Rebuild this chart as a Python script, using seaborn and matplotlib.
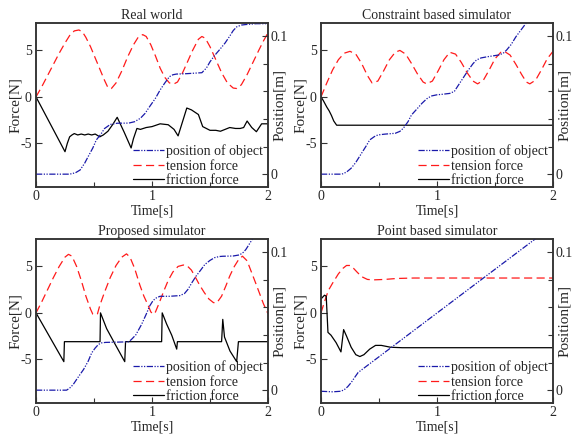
import matplotlib
matplotlib.use("Agg")
import matplotlib.pyplot as plt
from matplotlib.ticker import MultipleLocator
import seaborn as sns

# ---- data ----
# Real world
real_pos_t = [0, 0.29, 0.34, 0.38, 0.42, 0.45, 0.49, 0.52, 0.56, 0.59, 0.64, 0.70, 0.80, 0.85, 0.90, 0.94,
              0.98, 1.03, 1.07, 1.11, 1.15, 1.18, 1.21, 1.30, 1.43, 1.47, 1.50, 1.54, 1.58, 1.63, 1.67, 1.70,
              1.73, 1.77, 1.81, 1.90, 2.0]
real_pos = [0, 0, 0.001, 0.003, 0.008, 0.0128, 0.019, 0.0248, 0.029, 0.033, 0.036, 0.0369, 0.037, 0.038,
            0.0405, 0.044, 0.049, 0.055, 0.061, 0.066, 0.0706, 0.072, 0.0725, 0.0728, 0.0735, 0.077, 0.0814,
            0.086, 0.0899, 0.095, 0.1, 0.104, 0.1067, 0.108, 0.1084, 0.109, 0.109]
real_ten_t = [0, 0.05, 0.1, 0.15, 0.2, 0.25, 0.29, 0.33, 0.37, 0.40, 0.43, 0.47, 0.51, 0.55, 0.59, 0.62,
              0.65, 0.69, 0.74, 0.79, 0.84, 0.88, 0.92, 0.95, 0.99, 1.03, 1.07, 1.11, 1.15, 1.19, 1.22,
              1.26, 1.3, 1.35, 1.4, 1.43, 1.46, 1.5, 1.55, 1.6, 1.65, 1.7, 1.73, 1.77, 1.82, 1.87, 1.92,
              1.96, 2.0]
real_ten = [0, 1.1, 2.3, 3.5, 4.7, 5.8, 6.6, 7.1, 7.2, 7.0, 6.4, 5.4, 4.2, 3.0, 1.8, 1.0, 0.9, 1.5, 2.8,
            4.3, 5.6, 6.4, 6.7, 6.5, 5.6, 4.4, 3.1, 2.1, 1.5, 1.4, 1.6, 2.5, 3.6, 5.0, 6.2, 6.5, 6.3, 5.4,
            4.0, 2.6, 1.5, 0.95, 0.9, 1.3, 2.4, 3.7, 5.0, 6.0, 6.9]
real_fri_t = [0, 0.25, 0.27, 0.29, 0.31, 0.33, 0.36, 0.39, 0.42, 0.45, 0.48, 0.51, 0.55, 0.58, 0.62, 0.66,
              0.70, 0.76, 0.82, 0.84, 0.87, 0.90, 0.95, 1.0, 1.07, 1.14, 1.19, 1.225, 1.26, 1.30, 1.34,
              1.40, 1.437, 1.5, 1.55, 1.59, 1.63, 1.67, 1.72, 1.76, 1.79, 1.82, 1.86, 1.90, 1.945, 2.0]
real_fri = [0, -5.9, -5.0, -4.3, -4.1, -3.95, -4.1, -4.0, -4.1, -4.0, -4.1, -4.0, -4.3, -4.1, -3.7, -3.0,
            -2.2, -3.8, -5.5, -4.5, -3.4, -3.5, -3.3, -3.2, -2.9, -3.0, -3.5, -4.2, -2.8, -1.2, -1.4, -1.9,
            -3.2, -3.6, -3.6, -3.7, -3.5, -3.3, -3.4, -3.4, -3.3, -2.6, -3.3, -3.75, -2.9, -2.9]

# Constraint based simulator
cons_pos_t = [0, 0.18, 0.22, 0.26, 0.3, 0.35, 0.39, 0.42, 0.46, 0.49, 0.55, 0.64, 0.68, 0.71, 0.75, 0.78,
              0.83, 0.87, 0.91, 0.95, 1.0, 1.04, 1.11, 1.15, 1.18, 1.22, 1.27, 1.31, 1.34, 1.38, 1.43, 1.53,
              1.57, 1.6, 1.64, 1.68, 1.72, 1.77, 1.8]
cons_pos = [0, 0, 0.0015, 0.0043, 0.0085, 0.0152, 0.0205, 0.0248, 0.0272, 0.0284, 0.029, 0.0296, 0.031,
            0.0333, 0.038, 0.0429, 0.0475, 0.0513, 0.0545, 0.0566, 0.0575, 0.0578, 0.0585, 0.060, 0.0639,
            0.069, 0.0754, 0.080, 0.0827, 0.0842, 0.085, 0.0863, 0.0875, 0.0899, 0.094, 0.0995, 0.104,
            0.1096, 0.114]
cons_ten_t = [0, 0.05, 0.1, 0.15, 0.2, 0.25, 0.3, 0.35, 0.4, 0.44, 0.49, 0.54, 0.59, 0.64, 0.68, 0.73,
              0.78, 0.83, 0.88, 0.91, 0.96, 1.01, 1.06, 1.11, 1.16, 1.21, 1.26, 1.31, 1.35, 1.4, 1.45, 1.5,
              1.55, 1.58, 1.63, 1.68, 1.73, 1.77, 1.80, 1.85, 1.9, 1.95, 2.0]
cons_ten = [0, 1.5, 2.9, 4.0, 4.7, 4.9, 4.6, 3.6, 2.3, 1.5, 1.7, 2.8, 4.0, 4.8, 5.0, 4.6, 3.6, 2.5, 1.6,
            1.4, 1.7, 2.8, 4.0, 4.8, 4.6, 3.7, 2.6, 1.7, 1.4, 1.8, 2.9, 4.1, 4.8, 4.9, 4.5, 3.5, 2.4, 1.6,
            1.4, 1.8, 2.9, 4.1, 4.9]
cons_fri_t = [0, 0.02, 0.05, 0.07, 0.09, 0.11, 0.135, 2.0]
cons_fri = [0, -0.4, -1.1, -1.5, -2.0, -2.6, -3.05, -3.05]

# Proposed simulator
prop_pos_t = [0, 0.264, 0.29, 0.32, 0.36, 0.41, 0.45, 0.48, 0.51, 0.537, 0.56, 0.60, 0.70, 0.795, 0.82,
              0.86, 0.91, 0.95, 0.98, 1.01, 1.04, 1.07, 1.15, 1.24, 1.28, 1.31, 1.345, 1.38, 1.42, 1.455,
              1.5, 1.54, 1.58, 1.61, 1.70, 1.756, 1.79, 1.81, 1.84, 1.87, 1.9]
prop_pos = [0, 0, 0.0015, 0.004, 0.009, 0.015, 0.021, 0.027, 0.0305, 0.033, 0.0342, 0.0346, 0.0348,
            0.035, 0.0365, 0.040, 0.0476, 0.055, 0.061, 0.065, 0.067, 0.068, 0.068, 0.0685, 0.070, 0.073,
            0.078, 0.0826, 0.087, 0.091, 0.094, 0.096, 0.0968, 0.097, 0.0972, 0.098, 0.1, 0.102, 0.106,
            0.110, 0.114]
prop_ten_t = [0, 0.05, 0.1, 0.15, 0.2, 0.25, 0.28, 0.31, 0.35, 0.39, 0.43, 0.47, 0.49, 0.51, 0.53, 0.55,
              0.59, 0.64, 0.69, 0.74, 0.78, 0.81, 0.85, 0.895, 0.93, 0.967, 0.99, 1.01, 1.03, 1.06, 1.1,
              1.14, 1.18, 1.225, 1.27, 1.30, 1.34, 1.38, 1.41, 1.45, 1.49, 1.53, 1.56, 1.6, 1.64, 1.67,
              1.71, 1.75, 1.78, 1.82, 1.86, 1.90, 1.93, 1.96, 2.0]
prop_ten = [0, 1.2, 2.5, 3.8, 5.0, 6.0, 6.3, 6.1, 5.0, 3.5, 1.8, 0.4, -0.15, -0.2, -0.1, 0.8, 2.2, 3.8,
            5.1, 6.0, 6.35, 6.0, 4.8, 3.0, 1.8, 0.8, 0.1, -0.15, 0.1, 1.0, 2.3, 3.5, 4.4, 5.0, 5.15, 5.1,
            4.6, 3.7, 3.0, 2.2, 1.5, 1.1, 1.1, 1.8, 3.0, 3.96, 5.0, 5.8, 6.1, 5.6, 4.3, 3.0, 2.0, 1.0, -0.1]
prop_fri_t = [0, 0.24, 0.245, 0.552, 0.556, 0.609, 0.681, 0.765, 0.772, 1.083, 1.088, 1.126, 1.17, 1.213,
              1.219, 1.60, 1.61, 1.625, 1.672, 1.73, 1.745, 2.0]
prop_fri = [0, -5.25, -3.1, -3.1, 0, -1.7, -3.35, -5.25, -3.1, -3.1, 0, -1.2, -2.4, -3.9, -3.1, -3.1,
            -0.7, -2.6, -4.1, -5.25, -3.1, -3.1]

# Point based simulator
point_pos_t = [0, 0.1, 0.17, 0.2, 0.23, 0.26, 0.29, 0.32, 1.87, 2.0]
point_pos = [-0.0008, -0.0012, -0.0008, 0.0003, 0.0025, 0.0055, 0.0092, 0.0128, 0.111, 0.119]
point_ten_t = [0, 0.03, 0.063, 0.1, 0.15, 0.19, 0.22, 0.25, 0.28, 0.31, 0.35, 0.4, 0.45, 0.55, 0.65,
               0.8, 1.0, 1.3, 1.6, 2.0]
point_ten = [0, 1.2, 2.4, 3.2, 4.2, 4.8, 5.1, 5.1, 4.8, 4.4, 3.9, 3.6, 3.55, 3.6, 3.7, 3.75, 3.75,
             3.75, 3.75, 3.75]
point_fri_t = [0, 0.03, 0.045, 0.06, 0.086, 0.13, 0.172, 0.195, 0.22, 0.26, 0.30, 0.335, 0.37, 0.42,
               0.47, 0.52, 0.6, 0.7, 0.85, 1.0, 1.5, 2.0]
point_fri = [1.5, 1.9, 1.8, -2.1, -2.4, -3.2, -4.2, -1.8, -2.5, -3.7, -4.5, -4.7, -4.5, -3.9, -3.5,
             -3.5, -3.7, -3.75, -3.75, -3.75, -3.75, -3.75]

titles = ["Real world", "Constraint based simulator", "Proposed simulator", "Point based simulator"]

panels = [
    (real_pos_t, real_pos, real_ten_t, real_ten, real_fri_t, real_fri),
    (cons_pos_t, cons_pos, cons_ten_t, cons_ten, cons_fri_t, cons_fri),
    (prop_pos_t, prop_pos, prop_ten_t, prop_ten, prop_fri_t, prop_fri),
    (point_pos_t, point_pos, point_ten_t, point_ten, point_fri_t, point_fri),
]

sns.set_style("ticks")
plt.rcParams['font.family'] = ['Liberation Serif', 'DejaVu Serif']
plt.rcParams['axes.unicode_minus'] = False

W, H = 574, 438
fig = plt.figure(figsize=(W / 100, H / 100), dpi=100)

rects = [(36, 23), (321, 23), (36, 239), (321, 239)]
spine_col = '#333333'

for i, (left, top) in enumerate(rects):
    ax = fig.add_axes([left / W, 1 - (top + 164) / H, 232 / W, 164 / H])
    ax2 = ax.twinx()
    pos_t, pos, ten_t, ten, fri_t, fri = panels[i]

    sns.lineplot(x=ten_t, y=ten, ax=ax, color='#ff1a1a', lw=0.9,
                 linestyle=(0, (6.5, 3.5)), sort=False, estimator=None, label='tension force', legend=False)
    sns.lineplot(x=fri_t, y=fri, ax=ax, color='black', lw=0.9,
                 sort=False, estimator=None, label='friction force', legend=False)
    sns.lineplot(x=pos_t, y=pos, ax=ax2, color='#1a1aaa', lw=0.9,
                 linestyle=(0, (5, 1.2, 1, 1.2, 1, 1.2)), sort=False, estimator=None,
                 label='position of object', legend=False)

    ax.set_xlim(0, 2)
    ax.set_ylim(-9.7, 7.95)
    ax2.set_ylim(-0.0093, 0.1095)

    ax.xaxis.set_major_locator(MultipleLocator(1))
    ax.xaxis.set_minor_locator(MultipleLocator(0.5))
    ax.yaxis.set_major_locator(MultipleLocator(5))
    ax2.yaxis.set_major_locator(MultipleLocator(0.1))
    ax2.yaxis.set_minor_locator(MultipleLocator(0.02))
    ax2.yaxis.set_major_formatter(plt.FuncFormatter(lambda v, p: '0' if abs(v) < 1e-9 else f'{v:g}'))

    ax.tick_params(axis='x', which='both', direction='in', top=False, bottom=True,
                   labelsize=10, pad=2, color=spine_col)
    ax.tick_params(axis='x', which='major', length=4, width=0.8)
    ax.tick_params(axis='x', which='minor', length=3.5, width=0.8)
    ax.tick_params(axis='y', which='both', direction='in', left=True, right=False,
                   labelsize=10, pad=3, length=4, width=0.8, color=spine_col)
    ax2.tick_params(axis='y', which='both', direction='in', right=True, left=False,
                    labelsize=10, pad=2, width=0.8, color=spine_col)
    ax2.tick_params(axis='y', which='major', length=4)
    ax2.tick_params(axis='y', which='minor', length=3.5)

    for a in (ax, ax2):
        for s in a.spines.values():
            s.set_visible(True)
            s.set_color(spine_col)
            s.set_linewidth(1.1)

    ax.set_title(titles[i], fontsize=10, pad=3)
    ax.set_xlabel('Time[s]', fontsize=10, labelpad=1)
    ax.set_ylabel('Force[N]', fontsize=11)
    ax2.set_ylabel('Position[m]', fontsize=11)
    ax.yaxis.set_label_coords(-0.06, 0.5)
    ax2.yaxis.set_label_coords(1.022, 0.5)

    h1, l1 = ax.get_legend_handles_labels()
    h2, l2 = ax2.get_legend_handles_labels()
    ax2.legend(h2 + h1, l2 + l1, loc='lower right', bbox_to_anchor=(0.978, 0.0),
               frameon=False, fontsize=10, handlelength=2.2, handletextpad=0.15,
               labelspacing=0.1, borderpad=0, borderaxespad=0)

fig.savefig('out.png', dpi=100)
